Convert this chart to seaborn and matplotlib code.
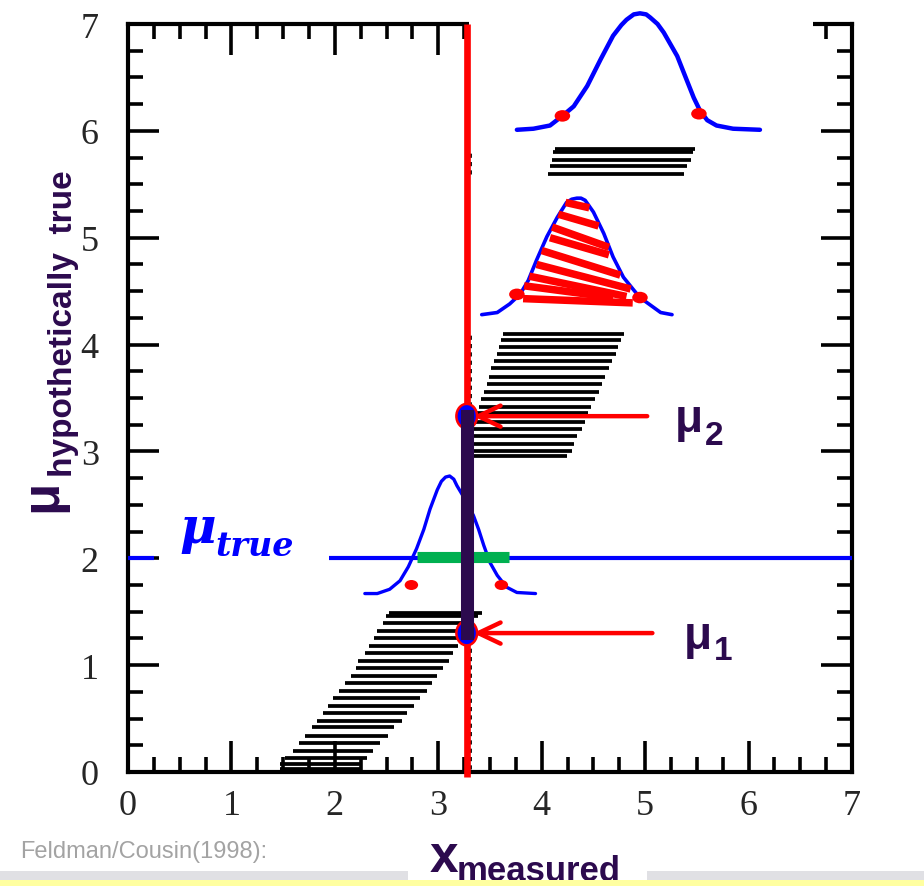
import matplotlib
matplotlib.use("Agg")
import matplotlib.pyplot as plt
from matplotlib.patches import Ellipse, Rectangle
from matplotlib.ticker import MultipleLocator
import numpy as np
import pandas as pd
import seaborn as sns

# ---------------------------------------------------------------- data
tick_values = [0, 1, 2, 3, 4, 5, 6, 7]
tick_labels = ["0", "1", "2", "3", "4", "5", "6", "7"]

x_obs = 3.275          # measured value
mu_true = 2.0          # true parameter
mu_1 = 1.30            # lower end of the confidence interval
mu_2 = 3.33            # upper end of the confidence interval

# Neyman belt: acceptance interval [lo, hi] in x for each hypothesised mu
belt_low_mu = [1.49, 1.46, 1.39, 1.32, 1.25, 1.18, 1.11, 1.04, 0.97, 0.90, 0.83, 0.76,
               0.69, 0.62, 0.55, 0.48, 0.42, 0.34, 0.27, 0.20, 0.13, 0.075, 0.03]
belt_low_lo = [2.52, 2.49, 2.47, 2.41, 2.38, 2.33, 2.29, 2.22, 2.20, 2.16, 2.10, 2.04,
               1.98, 1.93, 1.89, 1.83, 1.78, 1.71, 1.65, 1.60, 1.52, 1.47, 1.47]
belt_low_hi = [3.42, 3.38, 3.35, 3.30, 3.21, 3.19, 3.14, 3.10, 3.05, 2.99, 2.94, 2.89,
               2.82, 2.77, 2.70, 2.65, 2.57, 2.51, 2.44, 2.37, 2.31, 2.24, 2.24]

belt_mid_mu = [4.10, 4.04, 3.98, 3.91, 3.85, 3.78, 3.70, 3.63, 3.56, 3.49, 3.42, 3.36,
               3.28, 3.21, 3.14, 3.07, 3.00, 2.96]
belt_mid_lo = [3.63, 3.61, 3.59, 3.57, 3.54, 3.51, 3.49, 3.47, 3.44, 3.41, 3.39, 3.36,
               3.34, 3.32, 3.31, 3.29, 3.28, 3.28]
belt_mid_hi = [4.80, 4.77, 4.74, 4.72, 4.68, 4.65, 4.61, 4.58, 4.55, 4.52, 4.48, 4.45,
               4.42, 4.39, 4.34, 4.31, 4.29, 4.24]

belt_top_mu = [5.83, 5.80, 5.73, 5.67, 5.60]
belt_top_lo = [4.13, 4.11, 4.10, 4.08, 4.06]
belt_top_hi = [5.48, 5.46, 5.44, 5.40, 5.38]

# sketched pdfs of x for three hypothesised mu values
pdf_true_x = [2.29, 2.41, 2.53, 2.63, 2.71, 2.79, 2.86, 2.92, 2.99, 3.03, 3.07, 3.11,
              3.15, 3.18, 3.26, 3.34, 3.39, 3.44, 3.50, 3.57, 3.66, 3.76, 3.94]
pdf_true_y = [1.67, 1.67, 1.71, 1.79, 1.92, 2.09, 2.27, 2.46, 2.64, 2.72, 2.76, 2.77,
              2.74, 2.68, 2.55, 2.40, 2.27, 2.12, 1.96, 1.84, 1.73, 1.68, 1.67]

pdf_mid_x = [3.42, 3.57, 3.69, 3.79, 3.87, 3.95, 4.05, 4.15, 4.24, 4.29, 4.34, 4.38,
             4.42, 4.50, 4.60, 4.69, 4.79, 4.89, 4.95, 5.05, 5.15, 5.26]
pdf_mid_y = [4.28, 4.30, 4.38, 4.47, 4.60, 4.79, 5.01, 5.19, 5.33, 5.36, 5.37, 5.37,
             5.35, 5.24, 5.04, 4.82, 4.63, 4.51, 4.44, 4.37, 4.30, 4.28]

pdf_top_x = [3.76, 3.92, 4.08, 4.20, 4.31, 4.44, 4.57, 4.69, 4.77, 4.82, 4.89, 4.95,
             5.01, 5.05, 5.12, 5.18, 5.31, 5.40, 5.47, 5.53, 5.60, 5.69, 5.85, 6.11]
pdf_top_y = [6.01, 6.02, 6.05, 6.14, 6.23, 6.42, 6.67, 6.89, 6.99, 7.04, 7.09, 7.10,
             7.09, 7.06, 7.00, 6.92, 6.70, 6.48, 6.31, 6.19, 6.10, 6.05, 6.02, 6.01]

# interval edges marked on each pdf
edge_true_x = [2.74, 3.61]
edge_true_y = [1.75, 1.75]
edge_mid_x = [3.76, 4.95]
edge_mid_y = [4.47, 4.44]
edge_top_x = [4.20, 5.52]
edge_top_y = [6.14, 6.16]

# acceptance interval at mu_true
interval_true = [2.79, 3.68]

# hatch strokes shading the accepted area of the middle pdf (x0, y0, x1, y1)
hatch_x0 = [4.23, 4.16, 4.10, 4.08, 4.00, 3.95, 3.88, 3.83, 3.82]
hatch_y0 = [5.33, 5.22, 5.10, 5.00, 4.88, 4.75, 4.64, 4.55, 4.43]
hatch_x1 = [4.46, 4.55, 4.65, 4.65, 4.76, 4.86, 4.82, 4.69, 4.88]
hatch_y1 = [5.28, 5.11, 4.91, 4.84, 4.65, 4.52, 4.45, 4.44, 4.39]

# ---------------------------------------------------------------- style
W, H = 924, 887
sns.set_theme(style="ticks")
plt.rcParams["font.family"] = ["Liberation Sans", "DejaVu Sans"]

PURPLE = "#2C0A4E"
BLUE = "#0000FF"
RED = "#FF0000"
GREEN = "#00B050"

fig = plt.figure(figsize=(W / 100, H / 100), dpi=100)
fig.patch.set_facecolor("white")


def fx(px):
    return px / W


def fy(py):
    return 1 - py / H


ax = fig.add_axes([fx(128), fy(773), fx(852) - fx(128), fy(25) - fy(773)])
ax.set_facecolor("white")
ax.set_xlim(0, 7)
ax.set_ylim(0, 7)
ax.set_axisbelow(True)

for side in ["left", "right", "top", "bottom"]:
    ax.spines[side].set_visible(True)
    ax.spines[side].set_linewidth(3)
    ax.spines[side].set_color("black")

ax.set_xticks(tick_values, tick_labels)
ax.set_yticks(tick_values, tick_labels)
ax.xaxis.set_minor_locator(MultipleLocator(0.25))
ax.yaxis.set_minor_locator(MultipleLocator(0.25))
ax.tick_params(which="both", direction="in", top=True, right=True,
               color="black", width=2.6)
ax.tick_params(which="major", length=22)
ax.tick_params(which="minor", length=11)
ax.tick_params(axis="x", which="major", pad=12)
ax.tick_params(axis="y", which="major", pad=21)
for lab in ax.get_xticklabels() + ax.get_yticklabels():
    lab.set_family("Liberation Serif")
    lab.set_fontsize(26)
    lab.set_color("#262626")

# ---------------------------------------------------------------- belt
for mus, los, his in [(belt_low_mu, belt_low_lo, belt_low_hi),
                      (belt_mid_mu, belt_mid_lo, belt_mid_hi),
                      (belt_top_mu, belt_top_lo, belt_top_hi)]:
    ax.hlines(mus, los, his, colors="black", linewidth=2.7, zorder=2)
    ax.vlines(x_obs + 0.035, min(mus), max(mus), colors="black", linewidth=2,
              linestyles=(0, (1.5, 1.5)), zorder=2)

# white panel behind the upper pdf (covers the top frame)
ax.add_patch(Rectangle((3.30, 5.92), 3.32, 1.40, facecolor="white",
                       edgecolor="none", clip_on=False, zorder=2.6))

# ---------------------------------------------------------------- pdfs
for xs, ys, lw in [(pdf_true_x, pdf_true_y, 2.4),
                   (pdf_mid_x, pdf_mid_y, 2.6),
                   (pdf_top_x, pdf_top_y, 3.2)]:
    df = pd.DataFrame({"x": xs, "y": ys})
    sns.lineplot(data=df, x="x", y="y", sort=False, estimator=None, ax=ax,
                 color=BLUE, linewidth=lw, clip_on=False, zorder=3,
                 solid_joinstyle="round", solid_capstyle="round")

for x0, y0, x1, y1 in zip(hatch_x0, hatch_y0, hatch_x1, hatch_y1):
    ax.plot([x0, x1], [y0, y1], color=RED, linewidth=5.4,
            solid_capstyle="butt", zorder=3.2)

for xs, ys, w in [(edge_true_x, edge_true_y, 0.13),
                  (edge_mid_x, edge_mid_y, 0.15),
                  (edge_top_x, edge_top_y, 0.15)]:
    for x, y in zip(xs, ys):
        ax.add_patch(Ellipse((x, y), w, w * 0.72, facecolor=RED,
                             edgecolor="none", zorder=3.4))

# ---------------------------------------------------------------- mu_true
ax.hlines([mu_true, mu_true], [0, 1.94], [0.25, 7], colors=BLUE, linewidth=3,
          zorder=3.3)
ax.plot(interval_true, [mu_true + 0.01] * 2, color=GREEN, linewidth=8,
        solid_capstyle="butt", zorder=3.5)
ax.text(0.50, 2.156, "\u03bc", family="DejaVu Serif", style="italic",
        weight="bold", fontsize=36, color=BLUE, ha="left", va="baseline")
ax.text(0.84, 2.035, "true", family="DejaVu Serif", style="italic",
        weight="bold", fontsize=24, color=BLUE, ha="left", va="baseline")

# ---------------------------------------------------------------- measurement
ax.plot([x_obs, x_obs], [-0.05, 7], color=RED, linewidth=4.8,
        solid_capstyle="butt", clip_on=False, zorder=3.6)
for m in [mu_1, mu_2]:
    ax.add_patch(Ellipse((x_obs, m), 0.20, 0.23, facecolor=BLUE,
                         edgecolor=RED, linewidth=1.8, zorder=3.8))
ax.plot([x_obs, x_obs], [mu_1, mu_2], color=PURPLE, linewidth=9.4,
        solid_capstyle="projecting", zorder=4)

for m, tail in [(mu_1, 5.07), (mu_2, 5.02)]:
    ax.annotate("", xy=(3.337, m), xytext=(tail, m),
                arrowprops=dict(arrowstyle="->,head_length=0.8,head_width=0.38",
                                color=RED, lw=3.2, shrinkA=0, shrinkB=0,
                                mutation_scale=20),
                zorder=4.2)

ax.text(5.29, 3.19, "\u03bc", fontsize=33, weight="bold", color=PURPLE,
        ha="left", va="baseline")
ax.text(5.58, 3.07, "2", fontsize=24, weight="bold", color=PURPLE,
        ha="left", va="baseline")
ax.text(5.37, 1.16, "\u03bc", fontsize=33, weight="bold", color=PURPLE,
        ha="left", va="baseline")
ax.text(5.66, 1.055, "1", fontsize=24, weight="bold", color=PURPLE,
        ha="left", va="baseline")

ax.set_xlabel("")
ax.set_ylabel("")

# ---------------------------------------------------------------- axis titles
fig.text(fx(56.5), fy(512), "\u03bc", rotation=90, rotation_mode="anchor",
         ha="left", va="baseline", fontsize=38, weight="bold", color=PURPLE)
fig.text(fx(72), fy(477), "hypothetically  true", rotation=90,
         rotation_mode="anchor", ha="left", va="baseline", fontsize=24,
         weight="bold", color=PURPLE)

fig.text(fx(430), fy(872), "x", ha="left", va="baseline", fontsize=37,
         weight="bold", color=PURPLE)
fig.text(fx(457), fy(881), "measured", ha="left", va="baseline", fontsize=25,
         weight="bold", color=PURPLE)

fig.text(fx(20), fy(858), "Feldman/Cousin(1998):", ha="left", va="baseline",
         fontsize=17, color="#A3A3A3")

# footer bands
fig.add_artist(Rectangle((0, fy(881)), fx(408), fy(872) - fy(881),
                         transform=fig.transFigure, facecolor="#E0E0E4",
                         edgecolor="none", zorder=5))
fig.add_artist(Rectangle((fx(647), fy(881)), 1 - fx(647), fy(872) - fy(881),
                         transform=fig.transFigure, facecolor="#E0E0E4",
                         edgecolor="none", zorder=5))
fig.add_artist(Rectangle((0, 0), 1, fy(881), transform=fig.transFigure,
                         facecolor="#FFFFA0", edgecolor="none", zorder=6))

fig.savefig("out.png", dpi=100, facecolor="white")
